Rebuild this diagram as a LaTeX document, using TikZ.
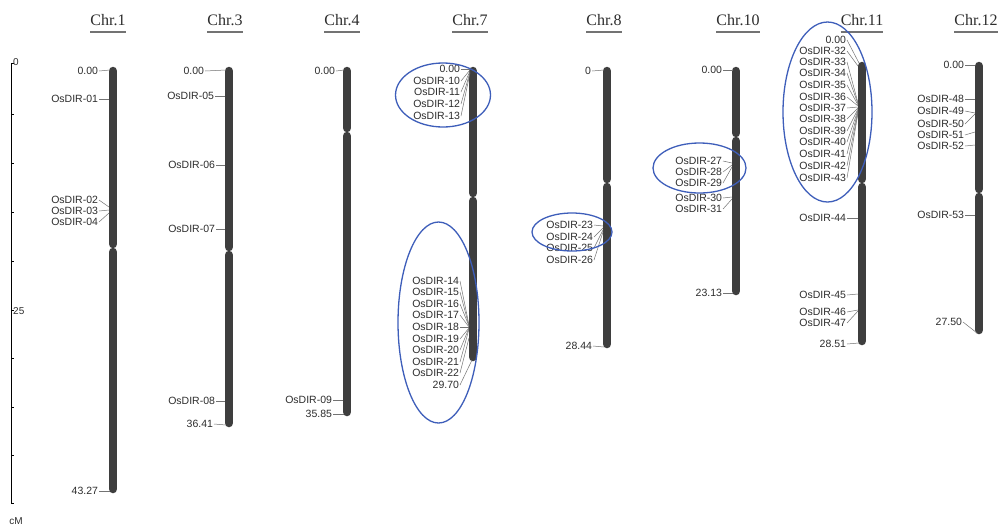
\documentclass[tikz,border=0pt]{standalone}
\usepackage{fontspec}
\setmainfont{Liberation Sans}
\newfontfamily\chrfont{Liberation Serif}
\definecolor{ellblue}{RGB}{62,94,186}
\definecolor{barc}{RGB}{62,62,62}
\definecolor{txt}{RGB}{45,45,45}
\tikzset{
  lab/.style={anchor=east,inner sep=0.8pt,font=\fontsize{10.5}{11}\selectfont,text=txt},
  leader/.style={draw=black!55,line width=0.5pt},
  chrbar/.style={line width=8.5pt,line cap=round,draw=barc},
  titlestyle/.style={font=\chrfont\fontsize{16}{18}\selectfont,text=txt,inner sep=0pt,anchor=base},
  uline/.style={draw=black!55,line width=1.4pt},
  ell/.style={draw=ellblue,line width=1.3pt},
  scaleline/.style={draw=black,line width=1pt},
  scalelab/.style={font=\fontsize{10}{10}\selectfont,text=txt,inner sep=0pt},
}
\newcommand\lab[6]{\node[lab] (#1) at (#2,#3) {#6}; \coordinate (#1p) at (#4,#5); \draw[leader] (#1.east) -- (#1p);}
\newcommand\chrom[5]{\coordinate (#1t) at (#2,#3+4); \coordinate (#1a) at (#2,#4-4); \coordinate (#1c) at (#2,#4+4); \coordinate (#1b) at (#2,#5-4); \draw[chrbar] (#1t) -- (#1a); \draw[chrbar] (#1c) -- (#1b);}
\newcommand\ctitle[3]{\node[titlestyle] (#1) at (#2,25) {#3}; \draw[uline] ([yshift=-7pt]#1.base west) -- ([yshift=-7pt]#1.base east);}
\begin{document}
\begin{tikzpicture}[x=1pt,y=-1pt]
\useasboundingbox (0,0) rectangle (1003,531);
\fill[white] (0,0) rectangle (1003,531);

% scale bar
\coordinate (s0) at (11,63);
\coordinate (s1) at (11,503);
\draw[scaleline] ([xshift=3pt]s0) -- (s0) -- (s1) -- ([xshift=3pt]s1);
\foreach \yy in {114,163,212,261,310,358,407,455}{\draw[scaleline,line width=0.6pt] (11,\yy) -- (14,\yy);}
\node[scalelab,anchor=west] (sl0) at (13,62) {0};
\node[scalelab,anchor=west] (sl25) at (13,311) {25};
\node[scalelab] (scm) at (16,521) {cM};

% titles
\ctitle{T1}{108}{Chr.1}
\ctitle{T3}{225}{Chr.3}
\ctitle{T4}{342}{Chr.4}
\ctitle{T7}{470}{Chr.7}
\ctitle{T8}{604}{Chr.8}
\ctitle{T10}{738}{Chr.10}
\ctitle{T11}{862}{Chr.11}
\ctitle{T12}{976}{Chr.12}

% chromosomes
\chrom{c1}{113}{67}{248}{493}
\chrom{c3}{229}{67}{251}{427}
\chrom{c4}{347}{67}{132}{416}
\chrom{c7}{473}{67}{197}{361}
\chrom{c8}{607}{67}{183}{348}
\chrom{c10}{736}{67}{137}{295}
\chrom{c11}{862}{62}{183}{345}
\chrom{c12}{979}{62}{193}{334}

% Chr.1
\lab{a0}{99}{71}{110}{70}{0.00}
\lab{a1}{99}{99}{109}{99}{OsDIR-01}
\lab{a2}{99}{200}{109}{207}{OsDIR-02}
\lab{a3}{99}{211}{109}{210}{OsDIR-03}
\lab{a4}{99}{222}{109}{213}{OsDIR-04}
\lab{ae}{99}{491}{110}{491}{43.27}

% Chr.3
\lab{b0}{205}{71}{226}{70}{0.00}
\lab{b5}{215}{96}{225}{96}{OsDIR-05}
\lab{b6}{216}{165}{225}{165}{OsDIR-06}
\lab{b7}{216}{229}{225}{229}{OsDIR-07}
\lab{b8}{216}{401}{225}{401}{OsDIR-08}
\lab{be}{214}{424}{226}{425}{36.41}

% Chr.4
\lab{d0}{336}{71}{344}{70}{0.00}
\lab{d9}{333}{400}{343}{400}{OsDIR-09}
\lab{de}{333}{414}{344}{414}{35.85}

% Chr.7 top
\lab{g0}{461}{69}{470}{69}{0.00}
\lab{g10}{461}{81}{470}{70}{OsDIR-10}
\lab{g11}{461}{92}{470}{71}{OsDIR-11}
\lab{g12}{461}{104}{470}{72}{OsDIR-12}
\lab{g13}{461}{116}{470}{73}{OsDIR-13}
% Chr.7 bottom
\lab{g14}{460}{281}{469}{325}{OsDIR-14}
\lab{g15}{460}{292}{469}{326}{OsDIR-15}
\lab{g16}{460}{304}{469}{326}{OsDIR-16}
\lab{g17}{460}{315}{469}{327}{OsDIR-17}
\lab{g18}{460}{327}{469}{327}{OsDIR-18}
\lab{g19}{460}{339}{469}{328}{OsDIR-19}
\lab{g20}{460}{350}{469}{328}{OsDIR-20}
\lab{g21}{460}{362}{469}{329}{OsDIR-21}
\lab{g22}{460}{373}{469}{338}{OsDIR-22}
\lab{ge}{460}{385}{472}{360}{29.70}

% Chr.8
\lab{h0}{592}{71}{604}{70}{0}
\lab{h23}{594}{225}{603}{226}{OsDIR-23}
\lab{h24}{594}{237}{603}{228}{OsDIR-24}
\lab{h25}{594}{248}{603}{230}{OsDIR-25}
\lab{h26}{594}{260}{603}{232}{OsDIR-26}
\lab{he}{593}{346}{604}{347}{28.44}

% Chr.10
\lab{k0}{723}{70}{733}{70}{0.00}
\lab{k27}{723}{161}{732}{163}{OsDIR-27}
\lab{k28}{723}{172}{732}{165}{OsDIR-28}
\lab{k29}{723}{183}{732}{167}{OsDIR-29}
\lab{k30}{723}{198}{732}{197}{OsDIR-30}
\lab{k31}{723}{209}{732}{199}{OsDIR-31}
\lab{ke}{723}{293}{733}{293}{23.13}

% Chr.11
\lab{m0}{847}{40}{859}{63}{0.00}
\lab{m32}{847}{51}{858}{66}{OsDIR-32}
\lab{m33}{847}{62}{858}{103}{OsDIR-33}
\lab{m34}{847}{73}{858}{104}{OsDIR-34}
\lab{m35}{847}{85}{858}{105}{OsDIR-35}
\lab{m36}{847}{97}{858}{106}{OsDIR-36}
\lab{m37}{847}{108}{858}{107}{OsDIR-37}
\lab{m38}{847}{119}{858}{108}{OsDIR-38}
\lab{m39}{847}{131}{858}{109}{OsDIR-39}
\lab{m40}{847}{142}{858}{110}{OsDIR-40}
\lab{m41}{847}{154}{858}{111}{OsDIR-41}
\lab{m42}{847}{166}{858}{112}{OsDIR-42}
\lab{m43}{847}{178}{858}{113}{OsDIR-43}
\lab{m44}{847}{218}{858}{218}{OsDIR-44}
\lab{m45}{847}{295}{858}{294}{OsDIR-45}
\lab{m46}{847}{312}{858}{310}{OsDIR-46}
\lab{m47}{847}{323}{858}{311}{OsDIR-47}
\lab{me}{847}{344}{859}{343}{28.51}

% Chr.12
\lab{n0}{965}{65}{975}{65}{0.00}
\lab{n48}{965}{99}{975}{99}{OsDIR-48}
\lab{n49}{965}{111}{975}{113}{OsDIR-49}
\lab{n50}{965}{124}{975}{114}{OsDIR-50}
\lab{n51}{965}{135}{975}{132}{OsDIR-51}
\lab{n52}{965}{146}{975}{145}{OsDIR-52}
\lab{n53}{965}{215}{975}{215}{OsDIR-53}
\lab{ne}{963}{322}{977}{333}{27.50}

% highlight ellipses
\draw[ell] (443,95) ellipse [x radius=47.5pt, y radius=32pt];
\draw[ell] (438.5,322.5) ellipse [x radius=40.5pt, y radius=100.5pt];
\draw[ell] (572,232) ellipse [x radius=40pt, y radius=19pt];
\draw[ell] (699.5,168) ellipse [x radius=46.5pt, y radius=25pt];
\draw[ell] (827.5,112) ellipse [x radius=44.5pt, y radius=90pt];
\end{tikzpicture}
\end{document}
